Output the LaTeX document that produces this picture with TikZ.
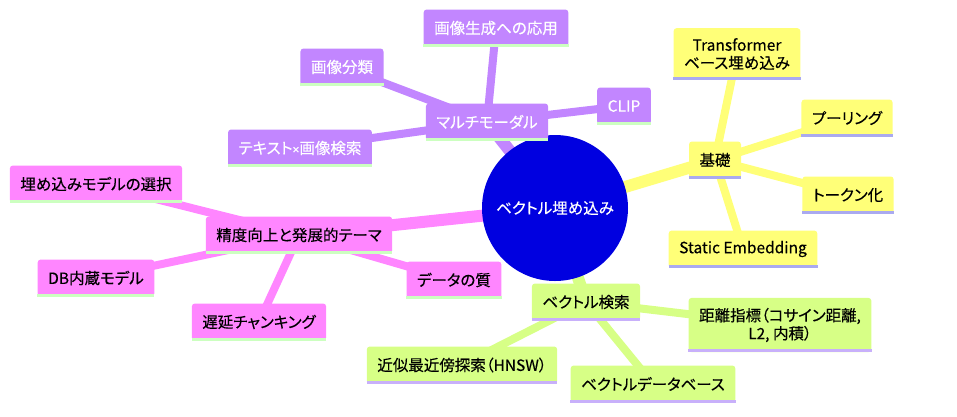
\documentclass[tikz,border=0pt]{standalone}
\usepackage{fontspec}
\newfontfamily\jp[RawFeature=+palt, FakeBold=0.3]{Noto Sans CJK JP}
\newfontfamily\latn[FakeBold=0.3]{Noto Sans}
\usepackage{tikz}
\usetikzlibrary{backgrounds}
\usepackage{xcolor}
\definecolor{rootblue}{HTML}{0000E0}
\definecolor{mmpurple}{HTML}{C286FF}
\definecolor{basicyel}{HTML}{FFFF78}
\definecolor{searchgrn}{HTML}{D7FF86}
\definecolor{advpink}{HTML}{FF86FF}
\definecolor{linegreen}{HTML}{CCFFC0}
\definecolor{linelav}{HTML}{AAAAF0}
\definecolor{linelavb}{HTML}{C8B0FA}

\begin{document}
\begin{tikzpicture}[
    x=1pt, y=1pt,
    txt/.style={font=\jp\fontsize{15.5}{18}\selectfont},
    box/.style={txt, rounded corners=3pt, minimum height=37pt, inner xsep=10.5pt, inner ysep=10pt, align=center},
    under/.style={append after command={([yshift=1.5pt]\tikzlastnode.south west) edge[draw=#1, line width=3pt] ([yshift=1.5pt]\tikzlastnode.south east)}},
    purp/.style={box, fill=mmpurple, text=white, under=linegreen},
    yel/.style={box, fill=basicyel, under=linelav},
    pnk/.style={box, fill=advpink, under=linegreen},
    grn/.style={box, fill=searchgrn, under=linelavb},
    trunk/.style={draw=#1, line width=12pt},
    twig/.style={draw=#1, line width=8pt}
]
  \useasboundingbox (-555,-208) rectangle (402,208);

  \node[txt, circle, fill=rootblue, text=white, minimum size=146pt, inner sep=0pt] (root) at (0,0) {ベクトル埋め込み};

  % multimodal
  \node[purp] (mm) at (-68,86) {マルチモーダル};
  \node[purp] (gen) at (-59,180) {画像生成への応用};
  \node[purp] (cls) at (-213,141) {画像分類};
  \node[purp] (clip) at (69,102) {CLIP};
  \node[purp] (txtimg) at (-255,60) {テキスト{\latn\fontsize{12}{18}\selectfont ×}画像検索};

  % basics
  \node[yel] (kiso) at (160,48) {基礎};
  \node[yel] (trans) at (182,154) {Transformer\\ベース埋め込み};
  \node[yel] (pool) at (292,90) {プーリング};
  \node[yel] (tok) at (293,13) {トークン化};
  \node[yel] (static) at (188,-41) {Static Embedding};

  % accuracy
  \node[pnk] (acc) at (-256,-27) {精度向上と発展的テーマ};
  \node[pnk] (modsel) at (-459,24) {埋め込みモデルの選択};
  \node[pnk] (dbmod) at (-459,-70) {DB内蔵モデル};
  \node[pnk] (chunk) at (-296,-114) {遅延チャンキング};
  \node[pnk] (qual) at (-101,-72) {データの質};

  % search
  \node[grn] (vs) at (31,-94) {ベクトル検索};
  \node[grn] (dist) at (225,-117) {距離指標（コサイン距離,\\L2, 内積）};
  \node[grn] (ann) at (-93,-157) {近似最近傍探索（HNSW）};
  \node[grn] (vdb) at (98,-176) {ベクトルデータベース};

  \begin{pgfonlayer}{background}
    \draw[trunk=mmpurple] (root.center) -- (mm.center);
    \foreach \n in {gen,cls,clip,txtimg} \draw[twig=mmpurple] (mm.center) -- (\n.center);
    \draw[trunk=basicyel] (root.center) -- (kiso.center);
    \foreach \n in {trans,pool,tok,static} \draw[twig=basicyel] (kiso.center) -- (\n.center);
    \draw[trunk=advpink] (root.center) -- (acc.center);
    \foreach \n in {modsel,dbmod,chunk,qual} \draw[twig=advpink] (acc.center) -- (\n.center);
    \draw[trunk=searchgrn] (root.center) -- (vs.center);
    \foreach \n in {dist,ann,vdb} \draw[twig=searchgrn] (vs.center) -- (\n.center);
  \end{pgfonlayer}
\end{tikzpicture}
\end{document}
